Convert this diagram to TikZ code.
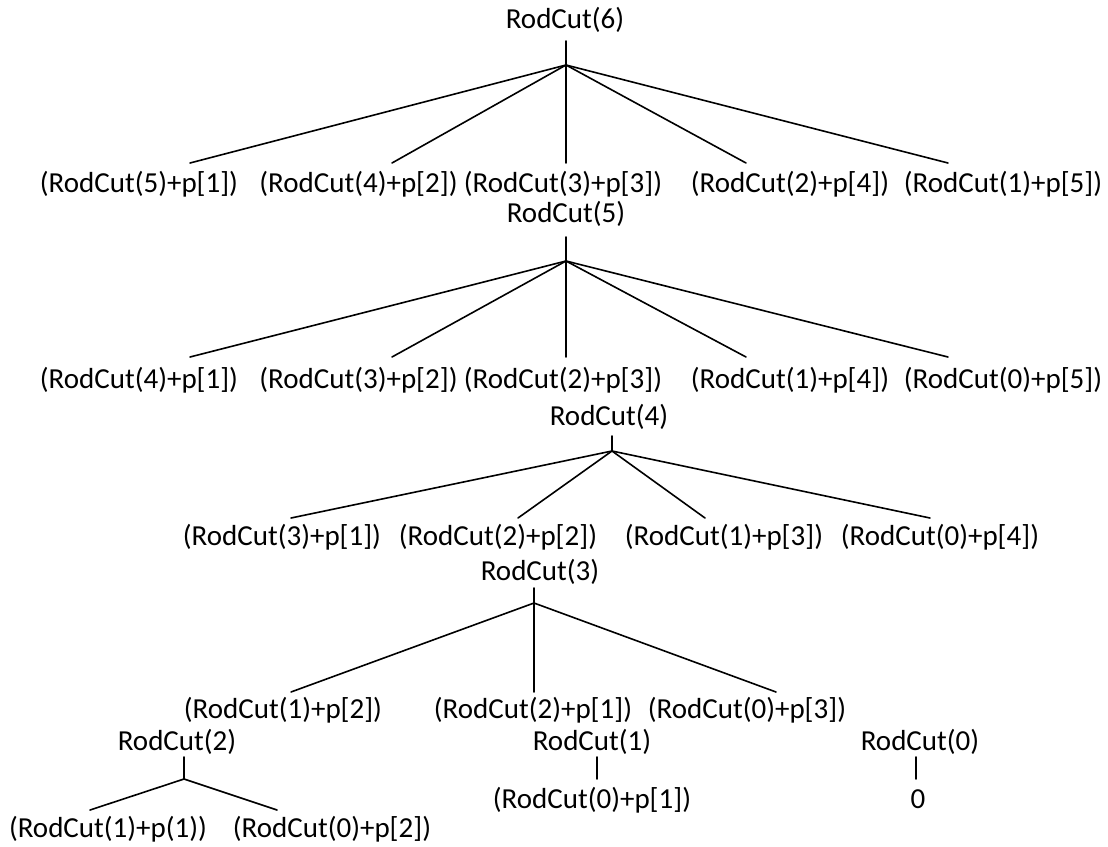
\documentclass[tikz,border=0pt]{standalone}
\usepackage{fontspec}
\setmainfont{Carlito}
\begin{document}
\begin{tikzpicture}[x=0.5pt,y=-0.5pt,
  lbl/.style={anchor=base,inner sep=0pt,font=\fontsize{14.5pt}{17pt}\selectfont},
  edge/.style={line width=0.8pt,line cap=round}]
\useasboundingbox (0,0) rectangle (1108,846);
% ---- texts ----
\node[lbl] (r6) at (565,28) {RodCut(6)};
\node[lbl] (a1) at (139,192) {(RodCut(5)+p[1])};
\node[lbl] (a2) at (358.5,192) {(RodCut(4)+p[2])};
\node[lbl] (a3) at (563,192) {(RodCut(3)+p[3])};
\node[lbl] (a4) at (790,192) {(RodCut(2)+p[4])};
\node[lbl] (a5) at (1003,192) {(RodCut(1)+p[5])};
\node[lbl] (r5) at (566,222) {RodCut(5)};
\node[lbl] (b1) at (139,388) {(RodCut(4)+p[1])};
\node[lbl] (b2) at (358.5,388) {(RodCut(3)+p[2])};
\node[lbl] (b3) at (563,388) {(RodCut(2)+p[3])};
\node[lbl] (b4) at (790,388) {(RodCut(1)+p[4])};
\node[lbl] (b5) at (1003,388) {(RodCut(0)+p[5])};
\node[lbl] (r4) at (609,425) {RodCut(4)};
\node[lbl] (c1) at (282,545) {(RodCut(3)+p[1])};
\node[lbl] (c2) at (498,545) {(RodCut(2)+p[2])};
\node[lbl] (c3) at (724,545) {(RodCut(1)+p[3])};
\node[lbl] (c4) at (940,545) {(RodCut(0)+p[4])};
\node[lbl] (r3) at (540,580) {RodCut(3)};
\node[lbl] (d1) at (283,718) {(RodCut(1)+p[2])};
\node[lbl] (d2) at (533,718) {(RodCut(2)+p[1])};
\node[lbl] (d3) at (747,718) {(RodCut(0)+p[3])};
\node[lbl] (r2) at (177,750) {RodCut(2)};
\node[lbl] (r1) at (592,750) {RodCut(1)};
\node[lbl] (r0) at (920,750) {RodCut(0)};
\node[lbl] (f1) at (592,808) {(RodCut(0)+p[1])};
\node[lbl] (z0) at (918,808) {0};
\node[lbl] (e1) at (108,837) {(RodCut(1)+p(1))};
\node[lbl] (e2) at (332,837) {(RodCut(0)+p[2])};
% ---- connector points ----
\coordinate (t6) at (566,41);  \coordinate (j6) at (566,65);
\coordinate (p61) at (190,163); \coordinate (p62) at (392,163); \coordinate (p63) at (566,163);
\coordinate (p64) at (746,163); \coordinate (p65) at (948,163);
\coordinate (t5) at (566,237); \coordinate (j5) at (566,261);
\coordinate (p51) at (190,357); \coordinate (p52) at (392,357); \coordinate (p53) at (566,357);
\coordinate (p54) at (746,357); \coordinate (p55) at (948,357);
\coordinate (t4) at (612,436); \coordinate (j4) at (612,451);
\coordinate (p41) at (291,518); \coordinate (p42) at (518,518); \coordinate (p43) at (705,518);
\coordinate (p44) at (930,518);
\coordinate (t3) at (534,588); \coordinate (j3) at (534,603);
\coordinate (p31) at (291,692); \coordinate (p32) at (534,692); \coordinate (p33) at (776,692);
\coordinate (t2) at (184,757); \coordinate (j2) at (184,779);
\coordinate (p21) at (90,810); \coordinate (p22) at (277,810);
\coordinate (t1) at (597,757); \coordinate (j1) at (597,779);
\coordinate (t0) at (916,757); \coordinate (j0) at (916,779);
% ---- connectors ----
\draw[edge] (t6) -- (j6);
\foreach \k in {1,...,5} {\draw[edge] (j6) -- (p6\k);}
\draw[edge] (t5) -- (j5);
\foreach \k in {1,...,5} {\draw[edge] (j5) -- (p5\k);}
\draw[edge] (t4) -- (j4);
\foreach \k in {1,...,4} {\draw[edge] (j4) -- (p4\k);}
\draw[edge] (t3) -- (j3);
\foreach \k in {1,...,3} {\draw[edge] (j3) -- (p3\k);}
\draw[edge] (t2) -- (j2);
\foreach \k in {1,2} {\draw[edge] (j2) -- (p2\k);}
\draw[edge] (t1) -- (j1);
\draw[edge] (t0) -- (j0);
\end{tikzpicture}
\end{document}
